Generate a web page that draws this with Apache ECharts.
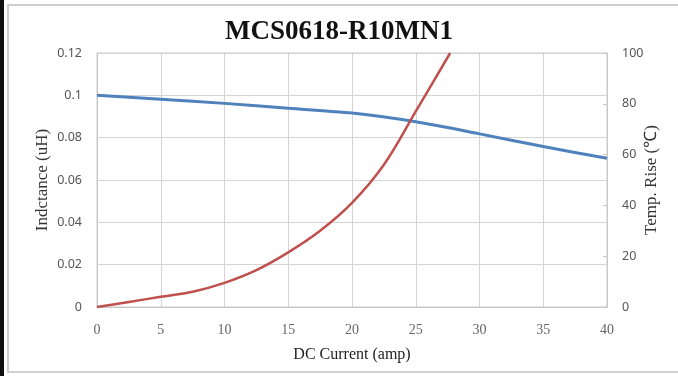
<!DOCTYPE html>
<html>
<head>
<meta charset="utf-8">
<script src="https://cdn.jsdelivr.net/npm/echarts@6/dist/echarts.min.js"></script>
<style>
  body { margin: 0; background: #fff; }
  #frame { position: absolute; left: 0; top: 0; width: 678px; height: 376px; box-sizing: border-box; border-left: 4px solid #111; }
  #inner { position: absolute; left: 7px; top: 4px; width: 671px; height: 369px; box-sizing: border-box; border: 2px solid #cfcfcf; border-right: none; }
  #main { position: absolute; left: 0; top: 0; width: 678px; height: 376px; }
</style>
</head>
<body>
<div id="frame"></div>
<div id="inner"></div>
<div id="main"></div>
<script>
// inductance curve (left axis)
var currentL = [0, 5, 10, 15, 20, 25, 30, 35, 40];
var inductance = [0.1, 0.0982, 0.0962, 0.0939, 0.0916, 0.0875, 0.0818, 0.0758, 0.0703];
// temperature rise curve (right axis)
var currentT = [0, 2.5, 5, 7.5, 10, 12.5, 15, 17.5, 20, 22.5, 25, 27.7];
var tempRise = [0, 2, 4, 6, 9.5, 14.5, 21.5, 30, 41, 56, 77, 100];

var xTicks = { min: 0, max: 40, interval: 5 };
var leftTicks = { min: 0, max: 0.12, interval: 0.02 };
var rightTicks = { min: 0, max: 100, interval: 20 };

function pairs(xs, ys) {
  return xs.map(function (x, i) { return [x, ys[i]]; });
}

var myChart = echarts.init(document.getElementById("main"));
myChart.setOption({
  animation: false,
  title: {
    text: "MCS0618-R10MN1",
    left: "center",
    top: 14,
    textStyle: {
      fontFamily: "Liberation Serif",
      fontSize: 27,
      fontWeight: "bold",
      color: "#111",
    },
  },
  grid: {
    left: 97,
    right: 71,
    top: 53,
    bottom: 69,
    show: true,
    borderColor: "#c8c8c8",
    borderWidth: 1,
  },
  xAxis: {
    type: "value",
    min: xTicks.min,
    max: xTicks.max,
    interval: xTicks.interval,
    name: "DC Current (amp)",
    nameLocation: "middle",
    nameGap: 40,
    nameTextStyle: { fontFamily: "Liberation Serif", fontSize: 16, color: "#222" },
    axisLine: { show: true, lineStyle: { color: "#c8c8c8" } },
    axisTick: { show: false },
    axisLabel: { margin: 16, fontFamily: "Liberation Serif", fontSize: 14, color: "#666" },
    splitLine: { show: true, lineStyle: { color: "#d4d4d4" } },
  },
  yAxis: [
    {
      type: "value",
      min: leftTicks.min,
      max: leftTicks.max,
      interval: leftTicks.interval,
      name: "Indctance (uH)",
      nameLocation: "middle",
      nameGap: 46,
      nameMoveOverlap: false,
      nameTextStyle: { fontFamily: "Liberation Serif", fontSize: 17, color: "#333" },
      axisLine: { show: true, lineStyle: { color: "#c8c8c8" } },
      axisTick: { show: false },
      axisLabel: { margin: 15, fontFamily: "Noto Sans", fontSize: 12.5, color: "#555" },
      splitLine: { show: true, lineStyle: { color: "#d4d4d4" } },
    },
    {
      type: "value",
      position: "right",
      min: rightTicks.min,
      max: rightTicks.max,
      interval: rightTicks.interval,
      name: "Temp. Rise (\u2103)",
      nameLocation: "middle",
      nameGap: 36,
      nameRotate: 90,
      nameMoveOverlap: false,
      nameTextStyle: { fontFamily: "Liberation Serif", fontSize: 17, color: "#333" },
      axisLine: { show: true, lineStyle: { color: "#c8c8c8" } },
      axisTick: { show: true, inside: true, length: 4, lineStyle: { color: "#c8c8c8" } },
      axisLabel: { margin: 15, fontFamily: "Noto Sans", fontSize: 12.5, color: "#555" },
      splitLine: { show: false },
    },
  ],
  series: [
    {
      name: "Inductance",
      type: "line",
      yAxisIndex: 0,
      smooth: 0.3,
      showSymbol: false,
      data: pairs(currentL, inductance),
      lineStyle: { color: "#4f81bd", width: 3 },
      color: "#4f81bd",
    },
    {
      name: "Temp. Rise",
      type: "line",
      yAxisIndex: 1,
      smooth: 0.35,
      showSymbol: false,
      data: pairs(currentT, tempRise),
      lineStyle: { color: "#c0504d", width: 2.5 },
      color: "#c0504d",
    },
  ],
});
</script>
</body>
</html>
